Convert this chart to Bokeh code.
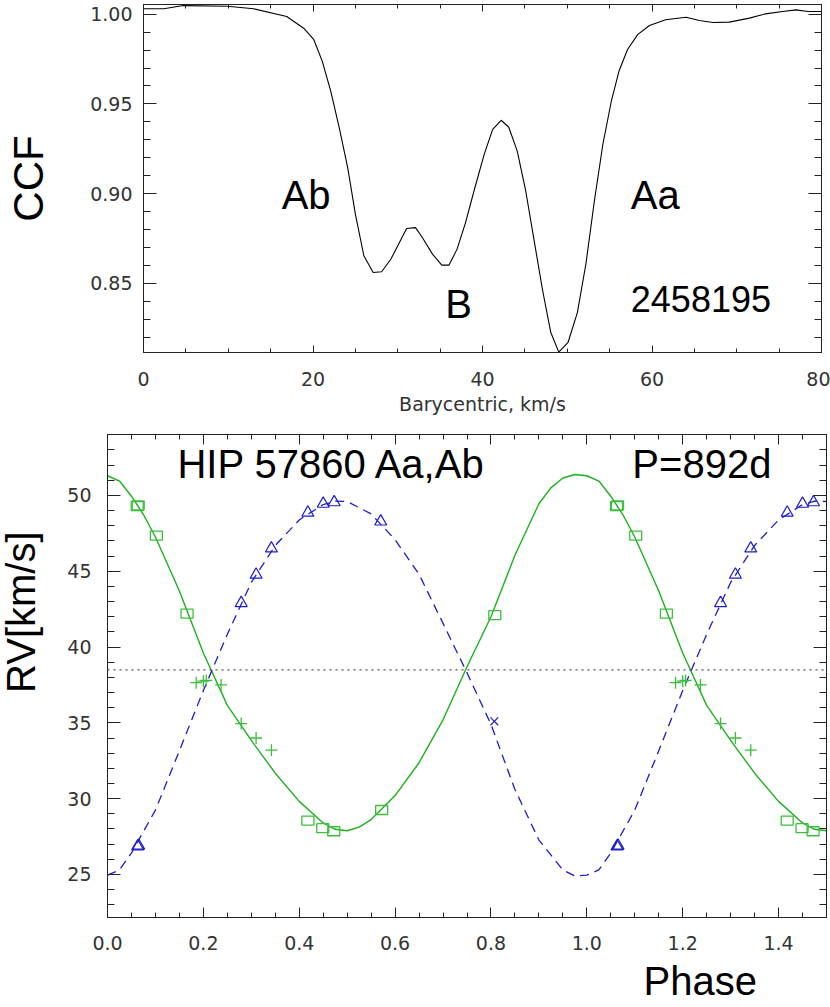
import numpy as np
from bokeh.plotting import figure
from bokeh.layouts import column, row
from bokeh.models import (Range1d, LinearAxis, SingleIntervalTicker, NumeralTickFormatter,
                          Label, Span, Title, CustomLabelingPolicy)
from bokeh.embed import file_html
from bokeh.resources import INLINE

# ---------------- data: CCF panel ----------------
ccf_velocity = [0.0, 2.4, 4.7, 9.9, 13.0, 16.9, 18.9, 20.1, 21.1, 22.1,
                23.1, 24.1, 25.0, 26.0, 27.1, 28.1, 29.2, 30.0, 31.05, 32.1,
                32.9, 34.1, 35.2, 36.05, 37.0, 38.0, 39.1, 40.2, 41.2, 42.2,
                43.1, 44.1, 45.1, 46.1, 47.1, 48.05, 49.0, 50.1, 51.2, 52.2,
                53.2, 54.2, 55.2, 56.1, 57.1, 58.3, 59.7, 61.6, 64.0, 65.6,
                67.2, 69.1, 71.5, 73.4, 75.4, 77.0, 78.4, 80.0]
ccf_value = [1.003, 1.003, 1.0048, 1.0044, 1.003, 0.9987, 0.9922, 0.9858, 0.9737, 0.957,
             0.9367, 0.9144, 0.8886, 0.8654, 0.8561, 0.8565, 0.8636, 0.871, 0.8806, 0.8811,
             0.8756, 0.8663, 0.8602, 0.8602, 0.8691, 0.8839, 0.9033, 0.9219, 0.9358, 0.9409,
             0.937, 0.9237, 0.9015, 0.8737, 0.8459, 0.8228, 0.8117, 0.8172, 0.8339, 0.8608,
             0.8959, 0.9274, 0.9515, 0.9682, 0.9802, 0.9886, 0.9937, 0.9969, 0.9983, 0.9965,
             0.9954, 0.9956, 0.9978, 1.0002, 1.0015, 1.0024, 1.0015, 1.0015]
ccf_labels = ["Ab", "Aa", "B", "2458195"]
ccf_label_x = [16.3, 57.5, 35.6, 57.5]
ccf_label_y = [0.8992, 0.8992, 0.8385, 0.8413]

# ---------------- data: RV panel ----------------
aa_curve_phase = [0.0, 0.025, 0.05, 0.075, 0.10, 0.15, 0.20, 0.25, 0.30, 0.35, 0.40, 0.45,
                  0.475, 0.50, 0.525, 0.55, 0.60, 0.65, 0.70, 0.75, 0.80, 0.85, 0.90,
                  0.925, 0.95, 0.975, 1.0]
aa_curve_rv = [51.30, 50.95, 49.95, 48.74, 47.26, 43.70, 39.61, 36.15, 33.84, 31.68, 29.82, 28.40,
               27.98, 27.88, 28.12, 28.62, 30.20, 32.37, 35.20, 38.70, 42.00, 46.05, 49.45,
               50.50, 51.15, 51.38, 51.30]
ab_curve_phase = [0.0, 0.025, 0.05, 0.10, 0.15, 0.20, 0.25, 0.30, 0.35, 0.40, 0.45, 0.475,
                  0.50, 0.55, 0.60, 0.65, 0.70, 0.75, 0.80, 0.85, 0.90, 0.95, 0.975, 1.0]
ab_curve_rv = [24.95, 25.30, 26.42, 29.24, 33.16, 37.13, 40.84, 44.26, 46.70, 48.38, 49.40, 49.62,
               49.60, 48.78, 47.08, 44.80, 41.56, 38.30, 34.90, 30.60, 27.27, 25.30, 24.90, 24.95]
gamma_rv = 38.5

aa_square_phase = [0.062, 0.064, 0.102, 0.166, 0.418, 0.449, 0.472, 0.572, 0.808]
aa_square_rv = [49.30, 49.35, 47.35, 42.20, 28.55, 28.05, 27.85, 29.25, 42.10]
aa_plus_phase = [0.185, 0.200, 0.206, 0.237, 0.279, 0.310, 0.342]
aa_plus_rv = [37.65, 37.75, 37.80, 37.50, 34.95, 34.00, 33.20]
ab_tri_phase = [0.063, 0.065, 0.279, 0.310, 0.342, 0.418, 0.450, 0.473, 0.570]
ab_tri_rv = [26.85, 26.90, 42.90, 44.77, 46.50, 48.86, 49.45, 49.55, 48.28]
ab_x_phase = [0.807]
ab_x_rv = [35.10]

rv_title = "HIP 57860 Aa,Ab"
rv_period = "P=892d"
rv_text_x = [0.146, 1.095]
rv_text_y = [52.08, 52.08]
rv_axis_title = "RV[km/s]"
phase_title = "Phase"

PHASE_MAX = 1.5


def repeat_curve(ph, rv):
    ph = np.asarray(ph, float)
    rv = np.asarray(rv, float)
    x = np.concatenate([ph, ph[1:] + 1.0])
    y = np.concatenate([rv, rv[1:]])
    m = x <= PHASE_MAX + 1e-9
    return x[m], y[m]


def repeat_points(ph, rv):
    ph = np.asarray(ph, float)
    rv = np.asarray(rv, float)
    x = np.concatenate([ph, ph + 1.0])
    y = np.concatenate([rv, rv])
    m = x <= PHASE_MAX
    return x[m], y[m]


TICK_FONT = "DejaVu Sans"
LBL_FONT = "Liberation Sans"
AX = "#222222"
NO_LABELS = "for (const i of indices) { indices.unset(i) }\nreturn indices"


def style_axis(ax, tick_in, minor_in, standoff=0, show=True):
    ax.axis_line_color = AX
    ax.major_tick_line_color = AX
    ax.minor_tick_line_color = AX
    ax.major_tick_in = tick_in
    ax.major_tick_out = 0
    ax.minor_tick_in = minor_in
    ax.minor_tick_out = 0
    ax.major_label_text_font = TICK_FONT
    ax.major_label_text_color = "#333333"
    ax.axis_label_text_font_style = "normal"
    if show:
        ax.major_label_text_font_size = "19px"
        ax.major_label_standoff = standoff
    else:
        ax.major_label_text_font_size = "1px"
        ax.major_label_standoff = 0
        ax.major_label_policy = CustomLabelingPolicy(code=NO_LABELS)


# ---------------- top figure: CCF ----------------
p1 = figure(width=830, height=418, x_range=Range1d(0, 80), y_range=Range1d(0.8115, 1.0054),
            output_backend="svg", toolbar_location=None, tools="",
            min_border_left=143, min_border_right=9, min_border_top=3, min_border_bottom=66)
p1.frame_align = False
p1.xgrid.visible = False
p1.ygrid.visible = False
p1.outline_line_color = AX
p1.background_fill_color = "white"
p1.border_fill_color = "white"

p1.xaxis.ticker = SingleIntervalTicker(interval=20, num_minor_ticks=4)
p1.yaxis.ticker = SingleIntervalTicker(interval=0.05, num_minor_ticks=5)
p1.yaxis.formatter = NumeralTickFormatter(format="0.00")
style_axis(p1.xaxis[0], 7, 4, standoff=19)
style_axis(p1.yaxis[0], 13, 7, standoff=11)
p1.xaxis.axis_label = "Barycentric, km/s"
p1.xaxis.axis_label_text_font = TICK_FONT
p1.xaxis.axis_label_text_font_size = "19px"
p1.xaxis.axis_label_text_color = "#333333"
p1.xaxis.axis_label_standoff = 4
p1.yaxis.axis_label = "CCF"
p1.yaxis.axis_label_text_font = LBL_FONT
p1.yaxis.axis_label_text_font_size = "42px"
p1.yaxis.axis_label_text_color = "black"
p1.yaxis.axis_label_standoff = 35

top1 = LinearAxis(ticker=SingleIntervalTicker(interval=20, num_minor_ticks=4))
style_axis(top1, 7, 4, show=False)
p1.add_layout(top1, "above")
right1 = LinearAxis(ticker=SingleIntervalTicker(interval=0.05, num_minor_ticks=5))
style_axis(right1, 13, 7, show=False)
p1.add_layout(right1, "right")

p1.line(ccf_velocity, ccf_value, line_color="black", line_width=1.1)

for t, x, y in zip(ccf_labels, ccf_label_x, ccf_label_y):
    size = "36px" if t.isdigit() else "40px"
    p1.add_layout(Label(x=x, y=y, text=t, text_font=LBL_FONT, text_font_size=size,
                        text_color="black", text_baseline="alphabetic", text_align="left"))

# ---------------- y title strip (left of RV panel) ----------------
STRIP_W = 50
RV_Y = (22.16, 54.02)
strip = figure(width=STRIP_W, height=589, x_range=Range1d(0, 1), y_range=Range1d(*RV_Y),
               output_backend="svg", toolbar_location=None, tools="",
               x_axis_location=None, y_axis_location=None,
               min_border_left=0, min_border_right=0, min_border_top=16, min_border_bottom=90)
strip.frame_align = False
strip.xgrid.visible = False
strip.ygrid.visible = False
strip.outline_line_color = None
strip.background_fill_color = "white"
strip.border_fill_color = "white"
strip.add_layout(Label(x=0.41, y=42.3, text=rv_axis_title, angle=np.pi / 2,
                       text_font=LBL_FONT, text_font_size="40px", text_color="black",
                       text_baseline="middle", text_align="center"))

# ---------------- bottom figure: RV curve ----------------
p2 = figure(width=830 - STRIP_W, height=589, x_range=Range1d(0, PHASE_MAX),
            y_range=Range1d(*RV_Y),
            output_backend="svg", toolbar_location=None, tools="",
            min_border_left=107 - STRIP_W, min_border_right=4, min_border_top=16,
            min_border_bottom=90)
p2.frame_align = False
p2.xgrid.visible = False
p2.ygrid.visible = False
p2.outline_line_color = AX
p2.background_fill_color = "white"
p2.border_fill_color = "white"

p2.xaxis.ticker = SingleIntervalTicker(interval=0.2, num_minor_ticks=4)
p2.xaxis.formatter = NumeralTickFormatter(format="0.0")
p2.yaxis.ticker = SingleIntervalTicker(interval=5, num_minor_ticks=5)
style_axis(p2.xaxis[0], 10, 5, standoff=18)
style_axis(p2.yaxis[0], 13, 7, standoff=16)

top2 = LinearAxis(ticker=SingleIntervalTicker(interval=0.2, num_minor_ticks=4))
style_axis(top2, 10, 5, show=False)
p2.add_layout(top2, "above")
right2 = LinearAxis(ticker=SingleIntervalTicker(interval=5, num_minor_ticks=5))
style_axis(right2, 13, 7, show=False)
p2.add_layout(right2, "right")

GREEN_LINE = "#1fb01f"
GREEN_MARK = "#3dbd3d"
BLUE = "#1c1cc8"

p2.add_layout(Span(location=gamma_rv, dimension="width", line_color="#555555",
                   line_dash="2 4", line_width=1.2))

xa, ya = repeat_curve(aa_curve_phase, aa_curve_rv)
p2.line(xa, ya, line_color=GREEN_LINE, line_width=1.4)
xb, yb = repeat_curve(ab_curve_phase, ab_curve_rv)
p2.line(xb, yb, line_color=BLUE, line_width=1.3, line_dash="9 6")

xs, ys = repeat_points(aa_square_phase, aa_square_rv)
p2.rect(xs, ys, width=12, height=9, width_units="screen", height_units="screen",
        fill_alpha=0, line_color=GREEN_MARK, line_width=1.3)
xp, yp = repeat_points(aa_plus_phase, aa_plus_rv)
p2.scatter(xp, yp, marker="cross", size=12, line_color=GREEN_MARK, line_width=1.3)
xt, yt = repeat_points(ab_tri_phase, ab_tri_rv)
p2.scatter(xt, yt, marker="triangle", size=12, fill_alpha=0, line_color=BLUE, line_width=1.2)
xx, yx = repeat_points(ab_x_phase, ab_x_rv)
p2.scatter(xx, yx, marker="x", size=11, line_color=BLUE, line_width=1.2)

for t, x, y in zip([rv_title, rv_period], rv_text_x, rv_text_y):
    p2.add_layout(Label(x=x, y=y, text=t, text_font=LBL_FONT, text_font_size="40px",
                        text_color="black", text_baseline="alphabetic", text_align="left"))

p2.add_layout(Title(text=phase_title, align="left", offset=536, standoff=9,
                    text_font=LBL_FONT, text_font_size="40px", text_font_style="normal",
                    text_color="black"), "below")

layout = column(p1, row(strip, p2))
open("out.html", "w").write(file_html(layout, INLINE))
